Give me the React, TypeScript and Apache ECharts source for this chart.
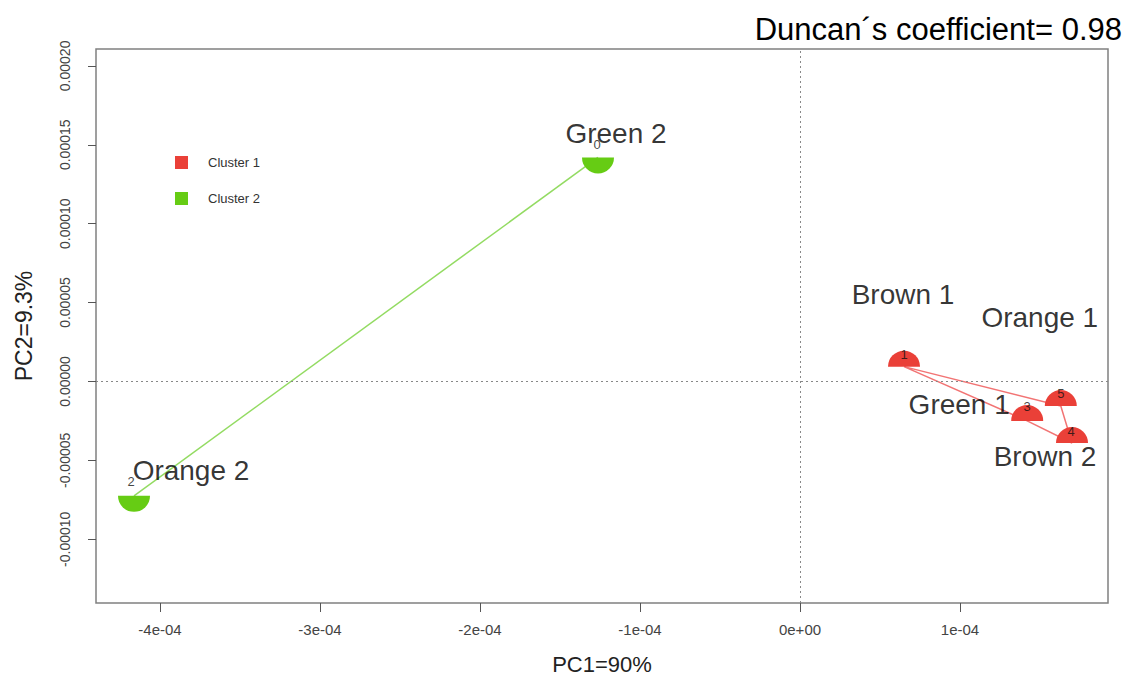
import React, { useEffect, useRef } from "react";
import * as echarts from "echarts";

// ---- data ----
const pointIds = ["0", "1", "2", "3", "4", "5"];
const pointNames = ["Green 2", "Brown 1", "Orange 2", "Green 1", "Brown 2", "Orange 1"];
const pc1 = [-1.2625e-4, 0.65e-4, -4.1625e-4, 1.42e-4, 1.7e-4, 1.63e-4];
const pc2 = [1.42e-4, 0.94e-5, -7.25e-5, -2.5e-5, -3.9e-5, -1.56e-5];
const pointCluster = [2, 1, 2, 1, 1, 1];
const clusterNames = ["Cluster 1", "Cluster 2"];
const cluster1Path = [1, 5, 4, 3, 1];
const cluster2Path = [2, 0];
const xTicks = [-4e-4, -3e-4, -2e-4, -1e-4, 0, 1e-4];
const yTicks = [-1e-4, -5e-5, 0, 5e-5, 1e-4, 1.5e-4, 2e-4];
const titleText = "Duncan\u00b4s coefficient= 0.98";
const xName = "PC1=90%";
const yName = "PC2=9.3%";

// ---- layout / style ----
const nameOffsets: Record<string, number[]> = {
  "0": [18, -24],
  "1": [-1, -72],
  "2": [57, -25],
  "3": [-68, -16],
  "4": [-27, 13],
  "5": [-21, -89],
};
const idOffsets: Record<string, number[]> = {
  "0": [-1, -13],
  "1": [0, -12],
  "2": [-3, -14],
  "3": [0, -14],
  "4": [-1, -12],
  "5": [0, -13],
};
const RED = "#ea4038";
const GREEN = "#66cc14";
const RED_LINE = "#f27474";
const GREEN_LINE = "#93db62";
const FONT = "Liberation Sans, Arial, sans-serif";

function fmtSci(v: number): string {
  if (Math.abs(v) < 1e-12) return "0e+00";
  const e = Math.floor(Math.log10(Math.abs(v)) + 1e-9);
  const m = Math.round((v / Math.pow(10, e)) * 100) / 100;
  const ae = Math.abs(e);
  return `${m}e${e < 0 ? "-" : "+"}${ae < 10 ? "0" + ae : ae}`;
}

export default function App() {
  const ref = useRef<HTMLDivElement>(null);
  useEffect(() => {
    if (!ref.current) return;
    const chart = echarts.init(ref.current, null, { renderer: "svg" });

    const pts = pointIds.map((id, i) => ({ id, x: pc1[i], y: pc2[i], c: pointCluster[i], name: pointNames[i] }));
    const clusterPoints = (c: number) =>
      pts.filter((p) => p.c === c).map((p) => ({ value: [p.x, p.y], id: p.id }));

    const pathData = (path: number[]) => path.map((i) => [pc1[i], pc2[i]]);

    const option: any = {
      animation: false,
      title: {
        text: titleText,
        right: 4,
        top: 9,
        textStyle: { fontFamily: FONT, fontSize: 31, fontWeight: "normal", color: "#000" },
      },
      legend: {
        data: [
          { name: clusterNames[0], icon: "rect", itemStyle: { color: RED } },
          { name: clusterNames[1], icon: "rect", itemStyle: { color: GREEN } },
        ],
        orient: "vertical",
        left: 170,
        top: 151,
        itemWidth: 13,
        itemHeight: 13,
        itemGap: 23,
        selectedMode: false,
        textStyle: { fontFamily: FONT, fontSize: 13, color: "#333", padding: [0, 0, 0, 15] },
      },
      grid: {
        left: 96,
        right: 23,
        top: 49,
        bottom: 71,
        show: true,
        borderColor: "#808080",
        borderWidth: 1.5,
        backgroundColor: "#fff",
      },
      xAxis: {
        type: "value",
        min: -4.4e-4,
        max: 1.925e-4,
        name: xName,
        nameLocation: "middle",
        nameGap: 50,
        nameTextStyle: { fontFamily: FONT, fontSize: 22, color: "#222" },
        axisLine: { show: false, onZero: false },
        splitLine: { show: false },
        axisTick: { show: true, length: 9, lineStyle: { color: "#555" }, customValues: xTicks },
        axisLabel: {
          customValues: xTicks,
          formatter: (v: number) => fmtSci(v),
          fontFamily: FONT,
          fontSize: 15,
          color: "#444",
          margin: 19,
        },
      },
      yAxis: {
        type: "value",
        min: -1.404e-4,
        max: 2.107e-4,
        name: yName,
        nameLocation: "middle",
        nameGap: 61,
        nameRotate: 90,
        nameTextStyle: { fontFamily: FONT, fontSize: 23, color: "#222" },
        axisLine: { show: false, onZero: false },
        splitLine: { show: false },
        axisTick: { show: true, length: 8, lineStyle: { color: "#555" }, customValues: yTicks },
        axisLabel: {
          customValues: yTicks,
          rotate: 90,
          formatter: (v: number) => (Math.abs(v) < 1e-12 ? "0.00000" : v.toFixed(5)),
          fontFamily: FONT,
          fontSize: 14,
          color: "#444",
          margin: 24,
        },
      },
      series: [
        {
          name: "c1-lines",
          type: "line",
          data: pathData(cluster1Path),
          symbol: "none",
          lineStyle: { color: RED_LINE, width: 1.5 },
          z: 2,
          silent: true,
          markLine: {
            silent: true,
            symbol: ["none", "none"],
            label: { show: false },
            lineStyle: { color: "#888", type: [2, 3], width: 1 },
            data: [{ xAxis: 0 }, { yAxis: 0 }],
          },
        },
        {
          name: "c2-lines",
          type: "line",
          data: pathData(cluster2Path),
          symbol: "none",
          lineStyle: { color: GREEN_LINE, width: 1.5 },
          z: 2,
          silent: true,
        },
        {
          name: clusterNames[0],
          type: "scatter",
          data: clusterPoints(1),
          symbol: "path://M0,10A10,10 0 0 1 20,10Z",
          symbolSize: [32, 16],
          symbolOffset: [0, -8],
          itemStyle: { color: RED, opacity: 1 },
          z: 3,
        },
        {
          name: clusterNames[1],
          type: "scatter",
          data: clusterPoints(2),
          symbol: "path://M0,0A10,10 0 0 0 20,0Z",
          symbolSize: [32, 16],
          symbolOffset: [0, 8],
          itemStyle: { color: GREEN, opacity: 1 },
          z: 3,
        },
        {
          name: "ids",
          type: "scatter",
          symbolSize: 0,
          itemStyle: { color: "rgba(0,0,0,0)" },
          z: 5,
          silent: true,
          data: pts.map((p) => ({
            value: [p.x, p.y],
            label: {
              show: true,
              position: "inside",
              offset: idOffsets[p.id],
              formatter: p.id,
              fontFamily: FONT,
              fontSize: 13,
              color: "#111",
            },
          })),
        },
        {
          name: "names",
          type: "scatter",
          symbolSize: 0,
          itemStyle: { color: "rgba(0,0,0,0)" },
          z: 6,
          silent: true,
          data: pts.map((p) => ({
            value: [p.x, p.y],
            label: {
              show: true,
              position: "inside",
              offset: nameOffsets[p.id],
              formatter: p.name,
              fontFamily: FONT,
              fontSize: 28,
              color: "#000",
            },
          })),
        },
      ],
    };
    chart.setOption(option);
    return () => chart.dispose();
  }, []);
  return <div ref={ref} style={{ width: 1131, height: 680, margin: -8 }} />;
}
